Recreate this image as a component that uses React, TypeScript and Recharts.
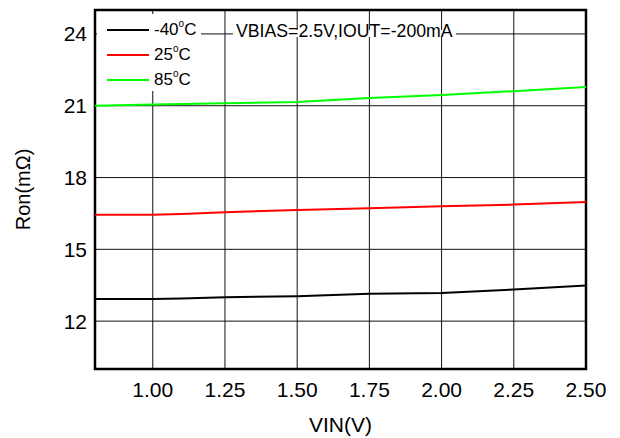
import React from 'react';
import {
  LineChart,
  Line,
  XAxis,
  YAxis,
  CartesianGrid,
  Legend,
  Label,
  ReferenceArea
} from 'recharts';

const vin = [0.8, 1.0, 1.1, 1.25, 1.5, 1.75, 2.0, 2.25, 2.5];
const ronM40 = [12.93, 12.93, 12.95, 13.0, 13.04, 13.14, 13.18, 13.32, 13.49];
const ron25 = [16.44, 16.44, 16.48, 16.55, 16.64, 16.72, 16.8, 16.87, 16.98];
const ron85 = [21.0, 21.05, 21.07, 21.1, 21.16, 21.32, 21.45, 21.61, 21.78];

const temps = ['-40', '25', '85'];
const colors = ['#000000', '#ff0000', '#00ff00'];
const xTicks = [1.0, 1.25, 1.5, 1.75, 2.0, 2.25, 2.5];
const yTicks = [12, 15, 18, 21, 24];

const data = vin.map((v, i) => ({ v, t0: ronM40[i], t1: ron25[i], t2: ron85[i] }));

const FONT = '"Liberation Sans", Arial, sans-serif';

const LegendBox = () => (
  <div style={{ position: 'relative', width: 104, height: 77, background: '#fff', fontFamily: FONT }}>
    {temps.map((t, i) => (
      <div
        key={t}
        style={{ position: 'absolute', left: 0, top: 3 + i * 25, height: 25, display: 'flex', alignItems: 'center' }}
      >
        <div style={{ width: 42, height: 2, marginLeft: 10, background: colors[i] }} />
        <span style={{ marginLeft: 5, fontSize: 17, color: '#000', whiteSpace: 'nowrap' }}>
          {t}
          <sup style={{ fontSize: 10, verticalAlign: 'top', position: 'relative', top: -2 }}>o</sup>C
        </span>
      </div>
    ))}
  </div>
);

export default function App() {
  return (
    <div style={{ position: 'absolute', left: 0, top: 0, width: 620, height: 438, background: '#fff' }}>
      <LineChart width={620} height={438} data={data} margin={{ top: 10, right: 34, bottom: 0, left: 0 }}>
        <CartesianGrid stroke="#111" strokeWidth={1} />
        <XAxis
          dataKey="v"
          type="number"
          domain={[0.8, 2.5]}
          ticks={xTicks}
          tickFormatter={(v: number) => v.toFixed(2)}
          height={69}
          tickLine={false}
          axisLine={false}
          tickMargin={7}
          tick={{ fontSize: 21, fill: '#000', fontFamily: FONT }}
        >
          <Label
            content={(props: any) => {
              const vb = props.viewBox;
              return (
                <text x={vb.x + vb.width / 2} y={432} textAnchor="middle" fontSize={21} fontFamily={FONT} fill="#000">
                  VIN(V)
                </text>
              );
            }}
          />
        </XAxis>
        <YAxis
          type="number"
          domain={[10, 25]}
          ticks={yTicks}
          width={95}
          tickLine={false}
          axisLine={false}
          tick={{ fontSize: 21, fill: '#000', fontFamily: FONT }}
        >
          <Label
            content={(props: any) => {
              const vb = props.viewBox;
              const cy = vb.y + vb.height / 2;
              return (
                <text
                  x={23}
                  y={cy}
                  transform={`rotate(-90 23 ${cy})`}
                  textAnchor="middle"
                  dominantBaseline="central"
                  fontSize={20}
                  fontFamily={FONT}
                  fill="#000"
                >
                  Ron(mΩ)
                </text>
              );
            }}
          />
        </YAxis>
        <ReferenceArea x1={0.8} x2={2.5} y1={10} y2={25} fill="none" stroke="#000" strokeWidth={2.5} ifOverflow="visible" />
        <Line type="linear" dataKey="t0" name="-40°C" stroke={colors[0]} strokeWidth={2} dot={false} isAnimationActive={false} />
        <Line type="linear" dataKey="t1" name="25°C" stroke={colors[1]} strokeWidth={2} dot={false} isAnimationActive={false} />
        <Line type="linear" dataKey="t2" name="85°C" stroke={colors[2]} strokeWidth={2} dot={false} isAnimationActive={false} />
        <Legend
          layout="vertical"
          align="center"
          verticalAlign="middle"
          content={() => <LegendBox />}
          wrapperStyle={{ left: 97, top: 14, width: 104, height: 77 }}
        />
      </LineChart>
      <div
        style={{
          position: 'absolute',
          left: 233,
          top: 21,
          height: 20,
          lineHeight: '20px',
          padding: '0 3px',
          fontSize: 17.7,
          fontFamily: FONT,
          color: '#000',
          whiteSpace: 'nowrap',
          background: 'linear-gradient(to bottom, transparent 9px, #fff 9px, #fff 16px, transparent 16px)'
        }}
      >
        VBIAS=2.5V,IOUT=-200mA
      </div>
    </div>
  );
}
